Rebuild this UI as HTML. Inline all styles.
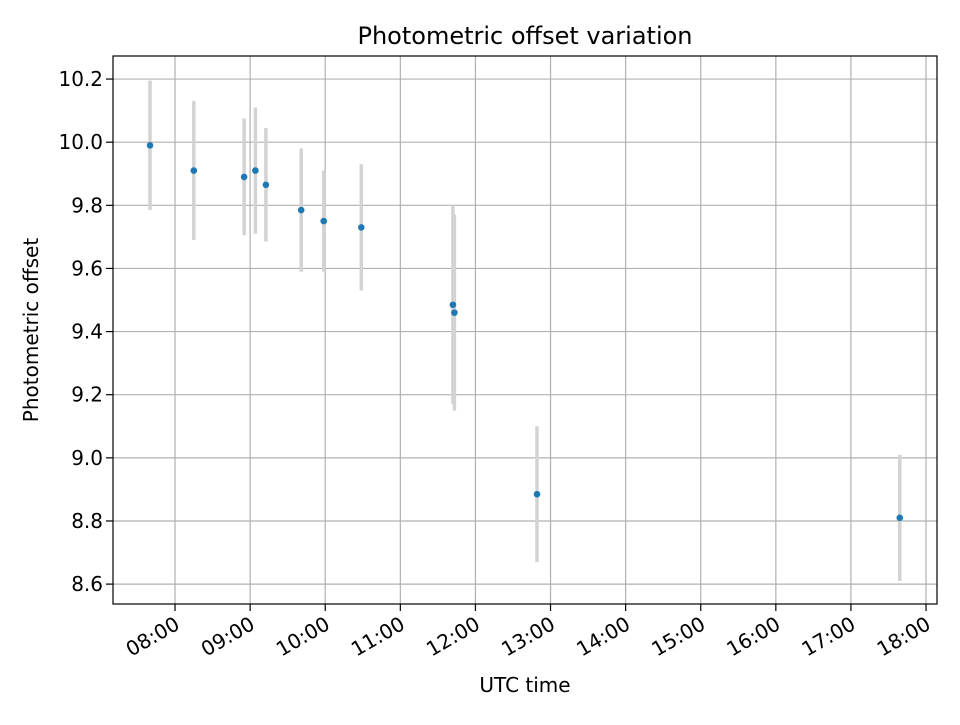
<!DOCTYPE html>
<html><head><meta charset="utf-8"><style>
html,body{margin:0;padding:0;background:#fff;}
svg text{font-family:"DejaVu Sans","Liberation Sans",sans-serif;fill:#000;}
</style></head><body>
<svg id="chart" width="960" height="720" viewBox="0 0 960 720" xmlns="http://www.w3.org/2000/svg">
<rect width="960" height="720" fill="#fff"/>
<g id="grid"></g>
<g id="errs"></g>
<g id="pts"></g>
<g id="axes"></g>
<text x="525" y="44" font-size="24" text-anchor="middle">Photometric offset variation</text>
<text x="525" y="692" font-size="20" text-anchor="middle">UTC time</text>
<text x="0" y="0" font-size="20" text-anchor="middle" transform="translate(38,330) rotate(-90)">Photometric offset</text>
</svg>
<script>
const times = [7.667, 8.25, 8.92, 9.07, 9.21, 9.68, 9.98, 10.48, 11.70, 11.72, 12.82, 17.65];
const offsets = [9.99, 9.91, 9.89, 9.91, 9.865, 9.785, 9.75, 9.73, 9.485, 9.46, 8.885, 8.81];
const errors = [0.205, 0.22, 0.185, 0.2, 0.18, 0.195, 0.16, 0.2, 0.315, 0.31, 0.215, 0.2];
const yTicks = [8.6, 8.8, 9.0, 9.2, 9.4, 9.6, 9.8, 10.0, 10.2];
const xTickHours = [8, 9, 10, 11, 12, 13, 14, 15, 16, 17, 18];

const L=113,R=937,T=56,B=604;
const xMin=7.174,xMax=18.146,yMin=8.537,yMax=10.273;
const X=h=>L+(h-xMin)/(xMax-xMin)*(R-L);
const Y=v=>B-(v-yMin)/(yMax-yMin)*(B-T);
const NS="http://www.w3.org/2000/svg";
function mk(tag,parent,attrs){const e=document.createElementNS(NS,tag);for(const k in attrs)e.setAttribute(k,attrs[k]);parent.appendChild(e);return e;}
const grid=document.getElementById('grid'),axes=document.getElementById('axes'),errs=document.getElementById('errs'),pts=document.getElementById('pts');

yTicks.forEach(v=>{
  const y=Y(v);
  const g=mk('line',grid,{x1:L,x2:R,y1:y,y2:y,stroke:'#b0b0b0','stroke-width':1.2});
  
  
  mk('line',axes,{x1:L-7,x2:L,y1:y,y2:y,stroke:'#000','stroke-width':1.2});
  const t=mk('text',axes,{x:L-10,y:y+7,'font-size':20,'text-anchor':'end'});
  t.textContent=v.toFixed(1);
  
  
});
xTickHours.forEach(h=>{
  const x=X(h);
  const g=mk('line',grid,{x1:x,x2:x,y1:T,y2:B,stroke:'#b0b0b0','stroke-width':1.2});
  
  
  mk('line',axes,{x1:x,x2:x,y1:B,y2:B+7,stroke:'#000','stroke-width':1.2});
  const t=mk('text',axes,{x:0,y:0,'font-size':20,'text-anchor':'end',transform:`translate(${x+6},${B+24}) rotate(-30)`});
  t.textContent=String(h).padStart(2,'0')+':00';
  
  
});
const frame=mk('rect',axes,{x:L,y:T,width:R-L,height:B-T,fill:'none',stroke:'#000','stroke-width':1.2});



times.forEach((h,i)=>{
  const x=X(h);
  const e=mk('line',errs,{x1:x,x2:x,y1:Y(offsets[i]+errors[i]),y2:Y(offsets[i]-errors[i]),stroke:'#d3d3d3','stroke-width':3.5});
  
  
  const c=mk('circle',pts,{cx:x,cy:Y(offsets[i]),r:3.3,fill:'#1f77b4'});
  
  
});
</script>
</body></html>
